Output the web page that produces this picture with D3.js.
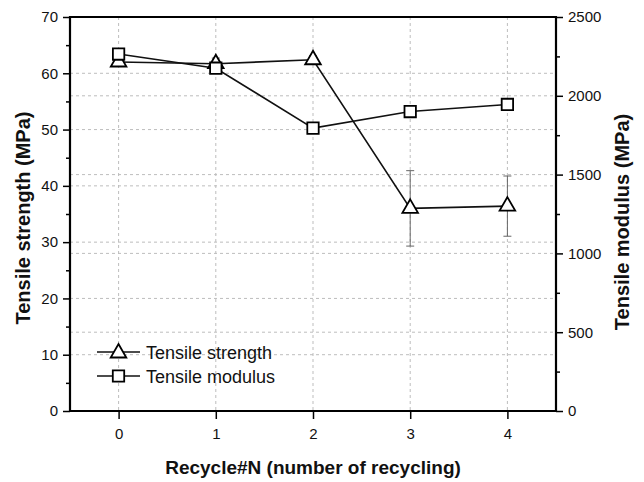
<!DOCTYPE html>
<html><head><meta charset="utf-8">
<script src="https://cdn.jsdelivr.net/npm/d3@7"></script>
<style>body{margin:0;background:#fff;} text{font-family:"Liberation Sans",Arial,sans-serif;}</style>
</head><body>
<svg id="c" width="644" height="482"></svg>
<script>
const cycles = [0, 1, 2, 3, 4];
const strength = [62.0, 61.7, 62.4, 36.0, 36.4];
const strengthErr = [0.8, 1.0, 0.7, 6.7, 5.35];
const modulus = [2265, 2175, 1795, 1900, 1945];
const modulusErr = [25, 20, 12, 12, 15];
const xTicks = [0, 1, 2, 3, 4];
const leftTicks = [0, 10, 20, 30, 40, 50, 60, 70];
const rightTicks = [0, 500, 1000, 1500, 2000, 2500];
const seriesNames = ["Tensile strength", "Tensile modulus"];
const xTitle = "Recycle#N (number of recycling)";
const yLeftTitle = "Tensile strength (MPa)";
const yRightTitle = "Tensile modulus (MPa)";

const svg = d3.select("#c");
const L = 70, R = 556, T = 17, B = 411;
const x = d3.scaleLinear().domain([-0.5, 4.5]).range([L, R]);
const yL = d3.scaleLinear().domain([0, 70]).range([B, T]);
const yR = d3.scaleLinear().domain([0, 2500]).range([B, T]);

const grid = svg.append("g").attr("stroke", "#bdbdbd").attr("stroke-width", 1).attr("stroke-dasharray", "3,3");
xTicks.forEach(t => grid.append("line").attr("x1", x(t)).attr("x2", x(t)).attr("y1", T).attr("y2", B));
leftTicks.filter(t => t > 0 && t < 70).forEach(t => grid.append("line").attr("x1", L).attr("x2", R).attr("y1", yL(t)).attr("y2", yL(t)));
rightTicks.filter(t => t > 0 && t < 2500).forEach(t => grid.append("line").attr("x1", L).attr("x2", R).attr("y1", yR(t)).attr("y2", yR(t)));

function styleAxis(g, fs) {
  g.select(".domain").remove();
  g.selectAll("line").attr("stroke", "#000").attr("stroke-width", 1.5);
  g.selectAll("text").attr("font-size", fs).attr("fill", "#111");
}
// minor ticks
svg.append("g").attr("transform", `translate(${L},0)`).call(d3.axisLeft(yL).tickValues(d3.range(5, 70, 10)).tickSize(4).tickFormat("")).call(g => styleAxis(g, 15));
svg.append("g").attr("transform", `translate(${R},0)`).call(d3.axisRight(yR).tickValues(d3.range(250, 2500, 500)).tickSize(4).tickFormat("")).call(g => styleAxis(g, 15));
// major
svg.append("g").attr("transform", `translate(${L},0)`).call(d3.axisLeft(yL).tickValues(leftTicks).tickSize(7).tickPadding(5).tickFormat(d3.format("d"))).call(g => styleAxis(g, 15));
svg.append("g").attr("transform", `translate(${R},0)`).call(d3.axisRight(yR).tickValues(rightTicks).tickSize(7).tickPadding(5).tickFormat(d3.format("d"))).call(g => styleAxis(g, 15));
svg.append("g").attr("transform", `translate(0,${B})`).call(d3.axisBottom(x).tickValues(xTicks).tickSize(8).tickPadding(9).tickFormat(d3.format("d"))).call(g => styleAxis(g, 15));

// frame
svg.append("path").attr("d", `M${L},${B}V${T}H${R}V${B}H${L}Z`).attr("fill", "none").attr("stroke", "#000").attr("stroke-width", 2.2);

// error bars
function errBars(vals, errs, y) {
  const g = svg.append("g").attr("stroke", "#666").attr("stroke-width", 1);
  cycles.forEach((c, i) => {
    const cx = x(c), y1 = y(vals[i] + errs[i]), y2 = y(vals[i] - errs[i]);
    g.append("line").attr("x1", cx).attr("x2", cx).attr("y1", y1).attr("y2", y2);
    g.append("line").attr("x1", cx - 4).attr("x2", cx + 4).attr("y1", y1).attr("y2", y1);
    g.append("line").attr("x1", cx - 4).attr("x2", cx + 4).attr("y1", y2).attr("y2", y2);
  });
}
errBars(strength, strengthErr, yL);
errBars(modulus, modulusErr, yR);

const line1 = d3.line().x((d, i) => x(cycles[i])).y(d => yL(d));
const line2 = d3.line().x((d, i) => x(cycles[i])).y(d => yR(d));
svg.append("path").attr("d", line1(strength)).attr("fill", "none").attr("stroke", "#111").attr("stroke-width", 1.6);
svg.append("path").attr("d", line2(modulus)).attr("fill", "none").attr("stroke", "#111").attr("stroke-width", 1.6);

const tri = d3.symbol().type(d3.symbolTriangle).size(105);
const sq = d3.symbol().type(d3.symbolSquare).size(130);
function markers(vals, y, sym) {
  svg.append("g").selectAll("path").data(vals).join("path")
    .attr("d", sym).attr("transform", (d, i) => `translate(${x(cycles[i])},${y(d)})`)
    .attr("fill", "#fff").attr("stroke", "#000").attr("stroke-width", 1.8);
}
markers(strength, yL, tri);
markers(modulus, yR, sq);

// legend
const leg = svg.append("g");
[[tri, 352], [sq, 376]].forEach(([sym, ly], i) => {
  leg.append("line").attr("x1", 97).attr("x2", 140).attr("y1", ly).attr("y2", ly).attr("stroke", "#111").attr("stroke-width", 1.6);
  leg.append("path").attr("d", sym).attr("transform", `translate(118.5,${ly + (i === 0 ? 1 : 0)})`).attr("fill", "#fff").attr("stroke", "#000").attr("stroke-width", 1.8);
  leg.append("text").attr("x", 146).attr("y", ly + 6.5).attr("font-size", 18).attr("fill", "#111").text(seriesNames[i]);
});

// titles
svg.append("text").attr("x", 313).attr("y", 474).attr("text-anchor", "middle").attr("font-size", 19).attr("font-weight", "bold").attr("fill", "#111").text(xTitle);
svg.append("text").attr("transform", "translate(30,218) rotate(-90)").attr("text-anchor", "middle").attr("font-size", 20).attr("font-weight", "bold").attr("fill", "#111").text(yLeftTitle);
svg.append("text").attr("transform", "translate(629,222) rotate(-90)").attr("text-anchor", "middle").attr("font-size", 20).attr("font-weight", "bold").attr("fill", "#111").text(yRightTitle);
</script>
</body></html>
